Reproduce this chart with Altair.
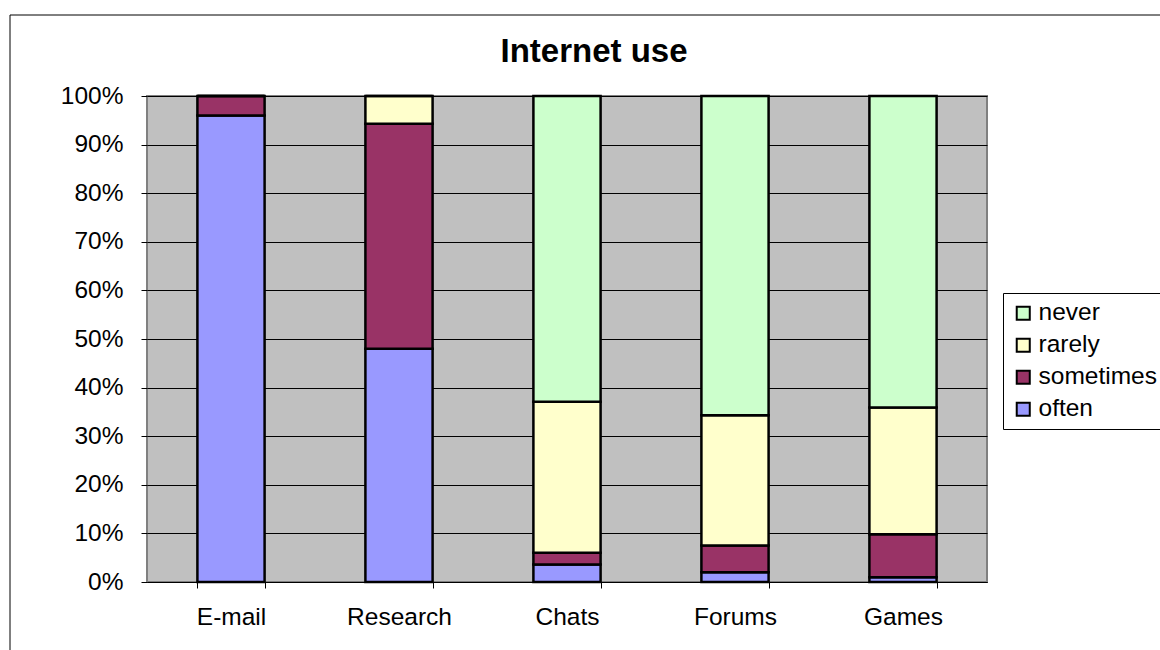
import altair as alt
import pandas as pd

# Share of respondents per activity and frequency (percent)
activities = ["E-mail", "Research", "Chats", "Forums", "Games"]
often = [96.0, 48.0, 3.6, 2.0, 1.0]
sometimes = [4.0, 46.3, 2.4, 5.5, 8.8]
rarely = [0.0, 5.7, 31.1, 26.8, 26.1]
never = [0.0, 0.0, 62.9, 65.7, 64.1]

freq_levels = ["never", "rarely", "sometimes", "often"]
freq_colors = ["#CCFFCC", "#FFFFCC", "#993366", "#9999FF"]
series = {"often": often, "sometimes": sometimes, "rarely": rarely, "never": never}
stack_rank = {"often": 0, "sometimes": 1, "rarely": 2, "never": 3}

rows = []
for freq, vals in series.items():
    for act, v in zip(activities, vals):
        rows.append({"activity": act, "freq": freq, "value": v, "rank": stack_rank[freq]})
df = pd.DataFrame(rows)

FONT = "Liberation Sans"
LABEL_SIZE = 24.5

bars = alt.Chart(df).mark_bar(stroke="black", strokeWidth=2.5).encode(
    x=alt.X(
        "activity:N",
        sort=activities,
        scale=alt.Scale(paddingInner=0.6, paddingOuter=0.3),
        axis=alt.Axis(
            title=None,
            labelAngle=0,
            grid=False,
            tickBand="extent",
            tickSize=6,
            tickColor="black",
            domainColor="black",
            domainWidth=1,
            labelFont=FONT,
            labelFontSize=LABEL_SIZE,
            labelColor="black",
            labelPadding=17,
        ),
    ),
    y=alt.Y(
        "value:Q",
        stack="normalize",
        axis=alt.Axis(
            title=None,
            format="%",
            values=[i / 10 for i in range(11)],
            grid=True,
            gridColor="black",
            gridWidth=1,
            gridOpacity=1,
            domain=False,
            tickSize=6,
            tickColor="black",
            labelFont=FONT,
            labelFontSize=LABEL_SIZE,
            labelColor="black",
            labelPadding=18,
        ),
    ),
    color=alt.Color(
        "freq:N",
        scale=alt.Scale(domain=freq_levels, range=freq_colors),
        legend=alt.Legend(
            title=None,
            orient="none",
            legendX=856,
            legendY=197,
            symbolType="square",
            symbolSize=170,
            symbolStrokeColor="black",
            symbolStrokeWidth=2,
            symbolOpacity=1,
            labelFont=FONT,
            labelFontSize=LABEL_SIZE,
            labelColor="black",
            labelOffset=3,
            rowPadding=7,
            padding=8,
            strokeColor="black",
            fillColor="white",
        ),
    ),
    order=alt.Order("rank:Q", sort="ascending"),
)

# Thin frame around the whole chart area
frame = alt.Chart(alt.Data(values=[{}])).mark_rect(
    fill="transparent", stroke="black", strokeWidth=1
).encode(
    x=alt.value(-137), x2=alt.value(1100), y=alt.value(-81), y2=alt.value(700)
)

chart = alt.layer(frame, bars).properties(
    width=840,
    height=486,
    background="white",
    padding={"left": 147, "top": 96, "right": 173, "bottom": 68},
    autosize=alt.AutoSizeParams(type="none"),
    title=alt.TitleParams(
        "Internet use",
        font=FONT,
        fontSize=33,
        fontWeight="bold",
        color="black",
        anchor="middle",
        frame="group",
        baseline="bottom",
        offset=27,
        dx=27,
        dy=114,
    ),
).configure_view(
    fill="#C0C0C0", stroke="#808080", strokeWidth=2
)

chart.save("out.html", embed_options={"renderer": "svg", "actions": False})
